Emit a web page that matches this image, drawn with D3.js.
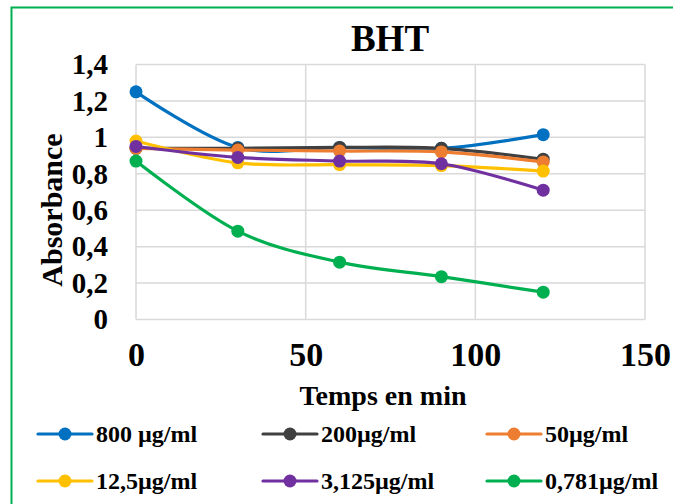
<!DOCTYPE html>
<html>
<head>
<meta charset="utf-8">
<script src="https://cdn.jsdelivr.net/npm/d3@7"></script>
<style>
  html, body { margin: 0; padding: 0; background: #fff; }
</style>
</head>
<body>
<svg id="chart" width="673" height="504"></svg>
<script>
// Sampling times (min)
const times = [0, 30, 60, 90, 120];

// Absorbance per BHT concentration
const seriesNames = ["800 µg/ml", "200µg/ml", "50µg/ml", "12,5µg/ml", "3,125µg/ml", "0,781µg/ml"];
const s800   = [1.25, 0.945, 0.945, 0.94, 1.015];
const s200   = [0.94, 0.94, 0.945, 0.94, 0.88];
const s50    = [0.94, 0.93, 0.925, 0.92, 0.865];
const s12_5  = [0.98, 0.86, 0.85, 0.845, 0.815];
const s3_125 = [0.95, 0.89, 0.87, 0.855, 0.71];
const s0_781 = [0.87, 0.485, 0.315, 0.235, 0.15];
const seriesColors = ["#0070C0", "#404040", "#ED7D31", "#FFC000", "#7030A0", "#00B050"];

const xTicks = [0, 50, 100, 150];
const yTicks = [0, 0.2, 0.4, 0.6, 0.8, 1, 1.2, 1.4];

const series = [s800, s200, s50, s12_5, s3_125, s0_781].map((vals, i) => ({
  name: seriesNames[i],
  color: seriesColors[i],
  points: vals.map((v, j) => ({ t: times[j], v }))
}));

const FONT = '"Liberation Serif", Tinos, "Times New Roman", Times, "DejaVu Serif", serif';
const styleText = sel => sel
  .style("font-family", FONT)
  .style("font-weight", "bold")
  .style("fill", "#000");

const svg = d3.select("#chart");

// Outer frame
svg.append("rect")
  .attr("x", 11.5).attr("y", 7.5)
  .attr("width", 700).attr("height", 520)
  .attr("fill", "none").attr("stroke", "#00B050").attr("stroke-width", 2);

const x = d3.scaleLinear().domain([0, 150]).range([136, 645]);
const y = d3.scaleLinear().domain([0, 1.4]).range([319.5, 64.5]);

const fmt = d => String(d).replace(".", ",");

// Gridlines
const grid = svg.append("g");
grid.selectAll("line.h").data(yTicks).join("line")
  .attr("x1", x(0)).attr("x2", x(150))
  .attr("y1", d => y(d)).attr("y2", d => y(d))
  .attr("stroke", "#D9D9D9").attr("stroke-width", 1.5);
grid.selectAll("line.v").data(xTicks).join("line")
  .attr("y1", y(0)).attr("y2", y(1.4))
  .attr("x1", d => x(d)).attr("x2", d => x(d))
  .attr("stroke", "#D9D9D9").attr("stroke-width", 1.5);

// Axes (labels only, lines are the gridlines)
const yAxis = svg.append("g").attr("transform", "translate(" + x(0) + ",0)")
  .call(d3.axisLeft(y).tickValues(yTicks).tickFormat(fmt).tickSize(0).tickPadding(28));
const xAxis = svg.append("g").attr("transform", "translate(0," + y(0) + ")")
  .call(d3.axisBottom(x).tickValues(xTicks).tickFormat(fmt).tickSize(0).tickPadding(22));
[yAxis, xAxis].forEach(a => {
  a.select(".domain").remove();
  a.attr("font-family", null).attr("font-size", null);
  styleText(a.selectAll("text"));
});
yAxis.selectAll("text").style("font-size", "29px");
xAxis.selectAll("text").style("font-size", "34px");

// Titles
styleText(svg.append("text").attr("x", 390).attr("y", 51).attr("text-anchor", "middle")
  .style("font-size", "37px").text("BHT"));
styleText(svg.append("text").attr("x", 383).attr("y", 405).attr("text-anchor", "middle")
  .style("font-size", "28px").text("Temps en min"));
styleText(svg.append("text").attr("transform", "translate(62,210) rotate(-90)")
  .attr("text-anchor", "middle").style("font-size", "30px").text("Absorbance"));

// Series: smoothed lines with markers
const line = d3.line().x(d => x(d.t)).y(d => y(d.v)).curve(d3.curveCardinal.tension(0));
const plot = svg.append("g");
series.forEach(s => {
  const g = plot.append("g");
  g.append("path").attr("d", line(s.points))
    .attr("fill", "none").attr("stroke", s.color).attr("stroke-width", 3.2)
    .attr("stroke-linejoin", "round").attr("stroke-linecap", "round");
  g.selectAll("circle").data(s.points).join("circle")
    .attr("cx", d => x(d.t)).attr("cy", d => y(d.v)).attr("r", 6.5)
    .attr("fill", s.color);
});

// Legend
const legend = svg.append("g");
const colX = [38, 263, 487];
const rowY = [434, 481];
series.forEach((s, i) => {
  const lx = colX[i % 3], ly = rowY[Math.floor(i / 3)];
  const g = legend.append("g");
  g.append("line").attr("x1", lx).attr("x2", lx + 54).attr("y1", ly).attr("y2", ly)
    .attr("stroke", s.color).attr("stroke-width", 3.2).attr("stroke-linecap", "round");
  g.append("circle").attr("cx", lx + 27).attr("cy", ly).attr("r", 6.5).attr("fill", s.color);
  styleText(g.append("text").attr("x", lx + 58).attr("y", ly + 8).style("font-size", "24px").text(s.name));
});
</script>
</body>
</html>
